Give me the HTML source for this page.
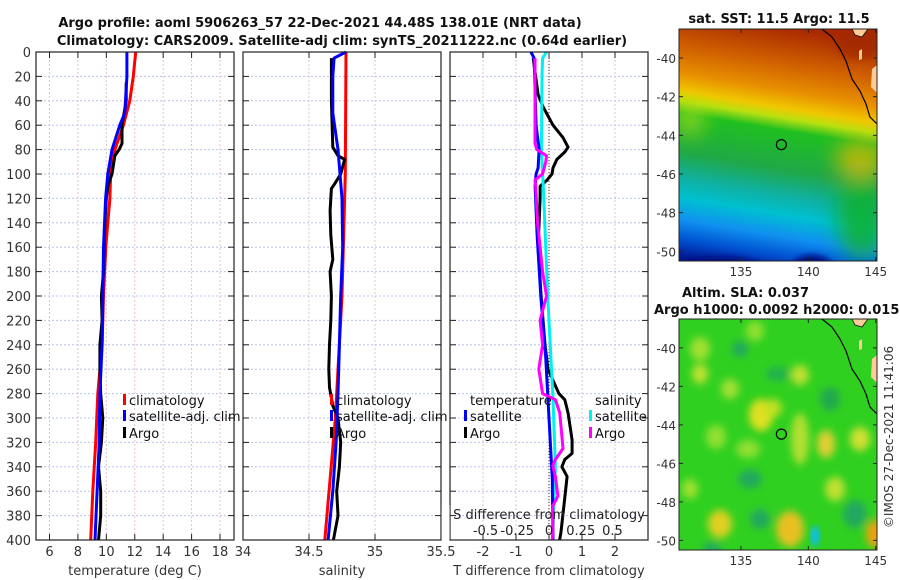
<!DOCTYPE html>
<html><head><meta charset="utf-8">
<style>
html,body{margin:0;padding:0;background:#fff;}
svg{display:block;font-family:"DejaVu Sans","Liberation Sans",sans-serif;}
</style></head>
<body>
<svg id="chart" width="900" height="580" viewBox="0 0 900 580" xmlns="http://www.w3.org/2000/svg">
<defs>
 <linearGradient id="sstGrad" gradientUnits="userSpaceOnUse" x1="800" y1="29" x2="760" y2="270">
  <stop offset="0" stop-color="#a82800"/>
  <stop offset="0.15" stop-color="#d06000"/>
  <stop offset="0.26" stop-color="#e89000"/>
  <stop offset="0.33" stop-color="#f0c800"/>
  <stop offset="0.37" stop-color="#b8e010"/>
  <stop offset="0.42" stop-color="#20c020"/>
  <stop offset="0.58" stop-color="#20a848"/>
  <stop offset="0.68" stop-color="#10b0a0"/>
  <stop offset="0.76" stop-color="#00c0d0"/>
  <stop offset="0.85" stop-color="#1090f0"/>
  <stop offset="0.93" stop-color="#0050d0"/>
  <stop offset="1" stop-color="#001890"/>
 </linearGradient>
 <filter id="blur6"><feGaussianBlur stdDeviation="4"/></filter>
 <filter id="blur3"><feGaussianBlur stdDeviation="3"/></filter>
 <filter id="blur10"><feGaussianBlur stdDeviation="10"/></filter>
 <clipPath id="clipMap1"><rect x="679" y="29" width="198" height="232"/></clipPath>
 <clipPath id="clipMap2"><rect x="679" y="319" width="198" height="231"/></clipPath>
</defs>
<g id="root"></g>
</svg>
<script>
// ---- data ----
const depthTicks = [0,20,40,60,80,100,120,140,160,180,200,220,240,260,280,300,320,340,360,380,400];
const tempTicks = [6,8,10,12,14,16,18];
const salTicks = [34,34.5,35,35.5];
const tdiffTicks = [-2,-1,0,1,2];
const tdiffTickLabels = ["-2","-1","0","1","2"];
const sdiffTicks = [-0.5,-0.25,0,0.25,0.5];

const climTDepth = [0,20,40,60,80,100,120,140,160,200,240,280,320,360,400];
const climT      = [12.07,11.9,11.65,11.2,10.6,10.3,10.25,10.1,9.96,9.8,9.7,9.4,9.25,9.05,8.9];
const satTDepth  = [0,20,40,50,60,80,100,120,160,200,240,280,320,360,400];
const satT       = [11.45,11.45,11.35,11.3,10.95,10.4,10.1,9.95,9.8,9.75,9.7,9.55,9.5,9.35,9.2];
const argoTDepth = [25,40,60,75,80,85,100,110,120,140,160,180,200,220,240,260,280,300,320,340,360,380,400];
const argoT      = [11.4,11.4,11.1,11.1,10.9,10.6,10.4,10.1,10.0,9.9,9.85,9.8,9.65,9.7,9.55,9.55,9.6,9.75,9.65,9.45,9.6,9.6,9.45];

const climSDepth = [0,100,200,260,300,400];
const climS      = [34.78,34.775,34.75,34.72,34.70,34.62];
const satSDepth  = [0,5,20,50,80,100,120,160,200,240,280,320,360,400];
const satS       = [34.78,34.69,34.68,34.68,34.72,34.735,34.75,34.755,34.74,34.73,34.72,34.705,34.68,34.645];
const argoSDepth = [5,40,78,85,88,100,108,112,130,150,170,180,200,220,240,260,275,290,300,320,340,360,380,400];
const argoS      = [34.67,34.67,34.68,34.72,34.77,34.74,34.695,34.67,34.66,34.665,34.68,34.66,34.67,34.665,34.655,34.65,34.655,34.68,34.72,34.74,34.73,34.71,34.72,34.685];

const tdiffSatDepth = [0,5,60,80,95,100,110,150,200,250,300,350,400];
const tdiffSat      = [-0.55,-0.45,-0.39,-0.3,-0.33,-0.39,-0.42,-0.36,-0.25,-0.1,0.0,0.1,0.12];
const tdiffArgoDepth = [5,35,45,60,70,78,82,88,95,100,105,110,120,160,200,240,260,280,285,296,318,329,334,340,348,372,394,400];
const tdiffArgo      = [-0.48,-0.33,-0.18,0.12,0.42,0.58,0.48,0.24,0.12,0.09,-0.06,-0.27,-0.27,-0.33,-0.24,-0.12,-0.03,0.3,0.48,0.58,0.7,0.7,0.48,0.39,0.55,0.45,0.36,0.32];
const sdiffSatDepth = [0,5,20,80,100,110,200,280,340,394,400];
const sdiffSat      = [-0.02,-0.05,-0.055,-0.06,-0.05,-0.045,-0.01,0.03,0.05,0.03,0.03];
const sdiffArgoDepth = [5,75,80,85,90,100,105,110,140,180,200,220,240,260,280,285,296,325,334,339,348,364,372,394,400];
const sdiffArgo      = [-0.11,-0.11,-0.095,-0.02,-0.025,-0.05,-0.11,-0.105,-0.09,-0.05,-0.02,-0.07,-0.05,-0.08,-0.05,0.05,0.085,0.11,0.05,0.03,0.05,0.07,0.03,0.03,0.025];

const latTicks = [-40,-42,-44,-46,-48,-50];
const lonTicks = [135,140,145];
const argoLon = 138.0, argoLat = -44.48;

// ---- helpers ----
const NS = "http://www.w3.org/2000/svg";
const root = document.getElementById('root');
function mk(tag, attrs, parent){
  const e = document.createElementNS(NS, tag);
  for (const k in attrs) e.setAttribute(k, attrs[k]);
  (parent||root).appendChild(e);
  return e;
}
const Y0 = 52, Y1 = 540;
const yD = d => Y0 + (d/400)*(Y1-Y0);
function lin(d0,d1,r0,r1){ return v => r0 + (v-d0)/(d1-d0)*(r1-r0); }

const panels = [
  {x0:36,x1:234, sx: lin(6,18,49.5,220), ticks:tempTicks, labels:tempTicks.map(String), name:'temperature-panel', xlabel:'temperature (deg C)'},
  {x0:243,x1:441, sx: lin(34,35.5,243,441), ticks:salTicks, labels:["34","34.5","35","35.5"], name:'salinity-panel', xlabel:'salinity'},
  {x0:450,x1:648, sx: lin(-3,3,450,648), ticks:tdiffTicks, labels:tdiffTickLabels, name:'difference-panel', xlabel:'T difference from climatology'}
];
const sxS = lin(0,0.5,549,612.5);

function drawLine(g, xs, ds, sx, color, name, w){
  const pts = xs.map((v,i)=> sx(v).toFixed(1)+','+yD(ds[i]).toFixed(1)).join(' ');
  const p = mk('polyline',{points:pts,fill:'none',stroke:color,'stroke-width':w||3,'stroke-linejoin':'round'},g);
  
  
}

panels.forEach((P,pi)=>{
  const g = mk('g',{});
  
  
  const gg = mk('g',{},g);
  
  
  depthTicks.forEach(d=>{
    mk('line',{x1:P.x0,x2:P.x1,y1:yD(d),y2:yD(d),stroke:'#b8c4ee','stroke-width':1,'stroke-dasharray':'2,2'},gg);
    mk('line',{x1:P.x0,x2:P.x0+6,y1:yD(d),y2:yD(d),stroke:'#222','stroke-width':1},gg);
    mk('line',{x1:P.x1-6,x2:P.x1,y1:yD(d),y2:yD(d),stroke:'#222','stroke-width':1},gg);
  });
  P.ticks.forEach(t=>{
    const x = P.sx(t);
    if (x>P.x0+1 && x<P.x1-1) mk('line',{x1:x,x2:x,y1:Y0,y2:Y1,stroke:'#e0c4c4','stroke-width':1,'stroke-dasharray':'2,2'},gg);
    mk('line',{x1:x,x2:x,y1:Y1,y2:Y1-6,stroke:'#222','stroke-width':1},gg);
    mk('line',{x1:x,x2:x,y1:Y0,y2:Y0+6,stroke:'#222','stroke-width':1},gg);
  });
  P.labels.forEach((l,i)=>{
    const x = P.sx(P.ticks[i]);
    const t = mk('text',{x:x,y:556,'font-size':13,fill:'#333','text-anchor':'middle'},g);
    t.textContent = l;
    
    
  });
  const xl = mk('text',{x:(P.x0+P.x1)/2,y:575,'font-size':13,fill:'#333','text-anchor':'middle'},g);
  xl.textContent = P.xlabel;
  
  
  P.g = g;
});

// y tick labels
depthTicks.forEach(d=>{
  const t = mk('text',{x:31,y:yD(d)+5,'font-size':13,fill:'#333','text-anchor':'end'});
  t.textContent = String(d);
  
  
});

// dotted zero line in panel 3
mk('line',{x1:549,x2:549,y1:Y0,y2:Y1,stroke:'#333','stroke-width':1,'stroke-dasharray':'1,2'},panels[2].g);

// series
drawLine(panels[0].g, climT, climTDepth, panels[0].sx, '#ff0000', 'climatology-temperature-line');
drawLine(panels[0].g, argoT, argoTDepth, panels[0].sx, '#000000', 'argo-temperature-line');
drawLine(panels[0].g, satT, satTDepth, panels[0].sx, '#0000ff', 'satellite-temperature-line');
drawLine(panels[1].g, climS, climSDepth, panels[1].sx, '#ff0000', 'climatology-salinity-line');
drawLine(panels[1].g, argoS, argoSDepth, panels[1].sx, '#000000', 'argo-salinity-line');
drawLine(panels[1].g, satS, satSDepth, panels[1].sx, '#0000ff', 'satellite-salinity-line');
drawLine(panels[2].g, tdiffArgo, tdiffArgoDepth, panels[2].sx, '#000000', 'argo-temperature-diff-line');
drawLine(panels[2].g, sdiffSat, sdiffSatDepth, sxS, '#00f0f0', 'satellite-salinity-diff-line');
drawLine(panels[2].g, tdiffSat, tdiffSatDepth, panels[2].sx, '#0000ff', 'satellite-temperature-diff-line');
drawLine(panels[2].g, sdiffArgo, sdiffArgoDepth, sxS, '#ff00ff', 'argo-salinity-diff-line');

// S axis labels inside panel 3
{
  const g = panels[2].g;
  const t = mk('text',{x:549,y:519,'font-size':13,fill:'#222','text-anchor':'middle'},g);
  t.textContent='S difference from climatology';
  
  
  const sl = ["-0.5","-0.25","0","0.25","0.5"];
  sdiffTicks.forEach((v,i)=>{
    const tt = mk('text',{x:sxS(v),y:535,'font-size':13,fill:'#222','text-anchor':'middle'},g);
    tt.textContent = sl[i];
    
    
  });
}

// cover overflow outside panel 3 for S label start
mk('rect',{x:441.6,y:505,width:8,height:34,fill:'#fff'});
// panel frames (drawn over)
panels.forEach(P=>{
  mk('rect',{x:P.x0,y:Y0,width:P.x1-P.x0,height:Y1-Y0,fill:'none',stroke:'#222','stroke-width':1.2},P.g);
});

// legends
function legendEntry(x,y,color,label,name){
  const g = mk('g',{});
  
  
  if (color) mk('rect',{x:x-6,y:y-11,width:3,height:11,fill:color},g);
  const t = mk('text',{x:x,y:y,'font-size':13,fill:'#111'},g);
  t.textContent = label;
}
legendEntry(129,405,'#ff0000','climatology','legend-climatology');
legendEntry(129,421,'#0000ff','satellite-adj. clim','legend-satellite-adj');
legendEntry(129,438,'#000000','Argo','legend-argo');
legendEntry(336,405,'#ff0000','climatology','legend-climatology-salinity');
legendEntry(336,421,'#0000ff','satellite-adj. clim','legend-satellite-adj-salinity');
legendEntry(336,438,'#000000','Argo','legend-argo-salinity');
legendEntry(470,405,null,'temperature','legend-temperature-header');
legendEntry(470,421,'#0000ff','satellite','legend-temperature-satellite');
legendEntry(470,438,'#000000','Argo','legend-temperature-argo');
legendEntry(595,405,null,'salinity','legend-salinity-header');
legendEntry(595,421,'#00f0f0','satellite','legend-salinity-satellite');
legendEntry(595,438,'#ff00ff','Argo','legend-salinity-argo');

// titles
{
  const t1 = mk('text',{x:320,y:27,'font-size':13,'font-weight':'bold',fill:'#111','text-anchor':'middle'});
  t1.textContent = 'Argo profile: aoml 5906263_57 22-Dec-2021 44.48S 138.01E (NRT data)';
   
  const t2 = mk('text',{x:342,y:45,'font-size':13,'font-weight':'bold',fill:'#111','text-anchor':'middle'});
  t2.textContent = 'Climatology: CARS2009. Satellite-adj clim: synTS_20211222.nc (0.64d earlier)';
   
}

// ---- maps ----
const mx = lin(130.4,145.1,679,877);
function drawMap(top, clipId, name, kind){
  const my = lin(-38.5,-50.5,top,top+(kind===1?232:231));
  const g = mk('g',{'clip-path':'url(#'+clipId+')'});
  
  
  const h = kind===1?232:231;
  if (kind===1){
    mk('rect',{x:679,y:top,width:198,height:h,fill:'url(#sstGrad)'},g);
    const bl = mk('g',{filter:'url(#blur3)'},g);
    mk('ellipse',{cx:722,cy:top+240,rx:42,ry:12,fill:'#001080'},bl);
    mk('ellipse',{cx:812,cy:top+238,rx:20,ry:12,fill:'#001080'},bl);
    mk('ellipse',{cx:860,cy:top+15,rx:25,ry:15,fill:'#a02800',opacity:0.7},bl);
    const bl2 = mk('g',{filter:'url(#blur10)'},g);
    mk('ellipse',{cx:862,cy:top+185,rx:25,ry:45,fill:'#10b030',opacity:0.85},bl2);
    mk('ellipse',{cx:860,cy:top+130,rx:25,ry:18,fill:'#f0b800',opacity:0.7},bl2);
    mk('ellipse',{cx:690,cy:top+90,rx:15,ry:18,fill:'#c0e010',opacity:0.6},bl2);
  } else {
    mk('rect',{x:679,y:top,width:198,height:h,fill:'#30d020'},g);
    const bl = mk('g',{filter:'url(#blur6)'},g);
    const blobs = [
      [761,96,12,16,'#e0e020'],[826,125,9,14,'#e0d030'],[773,89,9,9,'#c0e020'],
      [716,118,10,12,'#90e030'],[700,30,10,12,'#a0e030'],[730,70,9,10,'#a0e030'],
      [800,56,9,10,'#c0e030'],[748,130,12,9,'#90e030'],[755,12,9,10,'#90e030'],
      [720,205,12,14,'#e0d020'],[790,210,14,18,'#e8c020'],[875,215,9,14,'#f0a010'],
      [800,120,9,26,'#b0e030'],[860,120,10,12,'#d0e030'],[835,170,10,12,'#c0e030'],
      [750,160,12,9,'#20a860'],[778,55,12,7,'#20b050'],[700,55,8,10,'#c0e030'],
      [830,80,10,12,'#20a850'],[855,195,12,14,'#20a860'],[712,230,9,7,'#20a860'],
      [760,200,10,10,'#20a860'],[690,170,8,10,'#a0e030'],[740,30,8,8,'#20a860']
    ];
    blobs.forEach(b=> mk('ellipse',{cx:b[0],cy:top+b[1],rx:b[2],ry:b[3],fill:b[4]},bl));
    mk('ellipse',{cx:815,cy:top+217,rx:5,ry:10,fill:'#10c0e0',filter:'url(#blur3)'},g);
  }
  // land & coast
  mk('path',{d:`M852,${top} L868,${top} L862,${top+8} L855,${top+6} Z`,fill:'#ffcc99',stroke:'#111','stroke-width':0.8},g);
  mk('path',{d:`M859,${top+22} L862,${top+20} L862,${top+30} L859,${top+31} Z`,fill:'#ffcc99'},g);
  mk('path',{d:`M872,${top+40} L877,${top+36} L877,${top+64} L871,${top+58} Z`,fill:'#ffcc99'},g);
  mk('polyline',{points:`822,${top} 832,${top+8} 840,${top+20} 846,${top+32} 852,${top+50} 860,${top+62} 866,${top+75} 870,${top+88} 877,${top+95}`,fill:'none',stroke:'#000','stroke-width':1.2},g);
  // argo position circle
  const c = mk('circle',{cx:mx(argoLon),cy:my(argoLat),r:5,fill:'none',stroke:'#000','stroke-width':1.2});
  
  
  mk('rect',{x:679,y:top,width:198,height:h,fill:'none',stroke:'#222','stroke-width':1});
  latTicks.forEach(v=>{
    const y = my(v);
    mk('line',{x1:679,x2:683,y1:y,y2:y,stroke:'#222'});
    mk('line',{x1:873,x2:877,y1:y,y2:y,stroke:'#222'});
    const t = mk('text',{x:676,y:y+5,'font-size':12,fill:'#333','text-anchor':'end'});
    t.textContent = String(v);
    
    
  });
  lonTicks.forEach(v=>{
    const x = mx(v);
    mk('line',{x1:x,x2:x,y1:top+h,y2:top+h-4,stroke:'#222'});
    mk('line',{x1:x,x2:x,y1:top,y2:top+4,stroke:'#222'});
    const t = mk('text',{x:x,y:top+h+15,'font-size':12,fill:'#333','text-anchor':'middle'});
    t.textContent = String(v);
    
    
  });
}
drawMap(29,'clipMap1','sst-map',1);
drawMap(319,'clipMap2','sla-map',2);
{
  const a = mk('text',{x:779,y:23,'font-size':13,'font-weight':'bold',fill:'#111','text-anchor':'middle'});
  a.textContent='sat. SST: 11.5 Argo: 11.5';
   
  const b = mk('text',{x:682,y:297,'font-size':13,'font-weight':'bold',fill:'#111'});
  b.textContent='Altim. SLA: 0.037';
   
  const c = mk('text',{x:654,y:314,'font-size':13,'font-weight':'bold',fill:'#111'});
  c.textContent='Argo h1000: 0.0092 h2000: 0.015';
   
  const d = mk('text',{x:0,y:0,'font-size':12,fill:'#333','text-anchor':'middle',transform:'translate(893,437) rotate(-90)'});
  d.textContent='©IMOS 27-Dec-2021 11:41:06';
   
}
</script>
</body></html>
